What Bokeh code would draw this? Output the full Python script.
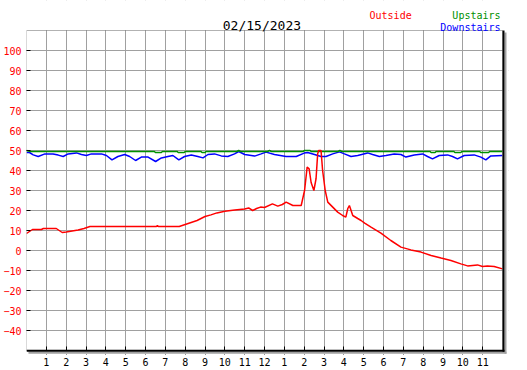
from bokeh.plotting import figure
from bokeh.models import FixedTicker, Label, BoxAnnotation, Range1d
from bokeh.embed import file_html
from bokeh.resources import INLINE

# ---- data ----
title_text = "02/15/2023"
hour_ticks = list(range(1, 24))
hour_labels = ["1", "2", "3", "4", "5", "6", "7", "8", "9", "10", "11", "12",
               "1", "2", "3", "4", "5", "6", "7", "8", "9", "10", "11"]
temp_ticks = list(range(-40, 101, 10))

out_hours = [0.0, 0.15, 0.3, 0.75, 0.85, 1.5, 1.65, 1.8, 2.0, 2.3, 2.6, 2.9, 3.2,
             6.55, 6.6, 6.65, 7.7, 8.0, 8.3, 8.6, 9.0, 9.3, 9.6, 10.0, 10.5, 11.0,
             11.2, 11.4, 11.6, 11.8, 12.0, 12.4, 12.67, 12.9, 13.09, 13.43, 13.85,
             14.02, 14.15, 14.25, 14.35, 14.49, 14.6, 14.68, 14.73, 14.85, 14.93,
             15.06, 15.19, 15.44, 15.69, 15.94, 16.1, 16.2, 16.28, 16.45, 16.7,
             16.87, 17.05, 17.37, 17.87, 18.37, 18.88, 19.38, 19.89, 20.4, 20.9,
             21.4, 21.9, 22.24, 22.74, 22.99, 23.24, 23.58, 24.0]
out_temps = [8.5, 9.5, 10.5, 10.5, 11.0, 11.0, 10.0, 9.0, 9.3, 9.8, 10.3, 11.0, 12.0,
             12.0, 12.5, 12.0, 12.0, 13.0, 14.0, 15.0, 17.0, 17.8, 18.8, 19.6, 20.2, 20.8,
             21.3, 20.0, 21.0, 21.7, 21.5, 23.3, 22.2, 23.0, 24.2, 22.5, 22.5,
             30.0, 41.7, 40.8, 34.0, 30.0, 36.0, 48.3, 50.0, 50.0, 40.0,
             30.0, 24.2, 21.7, 19.2, 17.5, 16.7, 21.0, 22.5, 17.5, 16.0,
             15.0, 13.7, 11.7, 8.7, 5.0, 1.7, 0.3, -0.8, -2.5, -3.8,
             -5.0, -6.7, -7.7, -7.2, -8.0, -7.7, -8.0, -9.2]

up_hours = [0.0, 0.2, 6.45, 6.5, 6.8, 6.85, 7.6, 7.65, 7.95, 8.0, 8.8, 8.85, 9.0,
            9.05, 10.6, 10.7, 10.8, 12.15, 12.25, 12.35, 13.95, 14.0, 14.3, 14.35,
            15.7, 15.8, 15.9, 20.35, 20.4, 20.6, 20.65, 21.55, 21.6, 21.9, 21.95,
            22.85, 22.9, 23.3, 23.35, 24.0]
up_temps = [50.0, 49.5, 49.5, 49.0, 49.0, 49.5, 49.5, 49.0, 49.0, 49.5, 49.5, 49.0, 49.0,
            49.5, 49.5, 50.0, 49.5, 49.5, 50.0, 49.5, 49.5, 50.0, 50.0, 49.5,
            49.5, 50.0, 49.5, 49.5, 49.0, 49.0, 49.5, 49.5, 49.0, 49.0, 49.5,
            49.5, 49.0, 49.0, 49.5, 49.5]

down_hours = [0.0, 0.15, 0.34, 0.59, 0.93, 1.34, 1.6, 1.85, 2.1, 2.52, 2.77, 3.02,
              3.27, 3.78, 4.03, 4.31, 4.61, 4.95, 5.2, 5.5, 5.79, 6.13, 6.51, 6.8,
              7.13, 7.38, 7.68, 7.97, 8.31, 8.64, 8.9, 9.15, 9.48, 9.82, 10.15,
              10.49, 10.7, 11.0, 11.5, 11.83, 12.08, 12.5, 13.09, 13.6, 14.0, 14.18,
              14.52, 14.85, 15.1, 15.44, 15.78, 16.03, 16.36, 16.7, 17.2, 17.45,
              17.79, 18.12, 18.54, 18.88, 19.13, 19.55, 19.97, 20.22, 20.47, 20.81,
              21.23, 21.48, 21.73, 22.07, 22.57, 22.91, 23.16, 23.41, 24.0]
down_temps = [49.0, 49.0, 47.8, 47.0, 48.3, 48.3, 47.7, 47.0, 48.3, 48.8, 48.0, 47.5,
              48.3, 48.3, 47.5, 45.3, 47.0, 48.0, 47.0, 45.0, 46.7, 46.7, 44.5, 46.3,
              47.0, 47.5, 45.3, 47.0, 47.8, 47.0, 46.3, 48.0, 48.3, 47.3, 47.0,
              48.3, 49.5, 48.0, 47.2, 48.3, 49.2, 48.0, 47.0, 47.0, 48.7, 49.0,
              48.0, 47.0, 47.0, 48.3, 49.3, 48.3, 47.0, 47.5, 48.8, 48.0,
              47.0, 47.5, 48.3, 48.0, 46.7, 47.8, 48.3, 47.0, 45.8, 47.5,
              47.8, 47.0, 45.8, 47.5, 47.8, 46.7, 45.3, 47.3, 47.5]

# ---- figure ----
MONO = "DejaVu Sans Mono"
X0, X1 = 0, 24          # hours shown in the chart box
Y0, Y1 = -50, 110       # temperatures shown in the chart box
p = figure(width=527, height=370, x_range=Range1d(X0, 24.302), y_range=Range1d(-52, 125),
           output_backend="svg", toolbar_location=None, tools="",
           min_border_left=25, min_border_right=19, min_border_top=0, min_border_bottom=16)
p.background_fill_color = "white"
p.border_fill_color = "white"
p.outline_line_color = None

p.xaxis.ticker = FixedTicker(ticks=hour_ticks)
p.xaxis.major_label_overrides = {h: l for h, l in zip(hour_ticks, hour_labels)}
p.yaxis.ticker = FixedTicker(ticks=temp_ticks)
p.xgrid.ticker = FixedTicker(ticks=hour_ticks)
p.ygrid.ticker = FixedTicker(ticks=temp_ticks)
for g in (p.xgrid, p.ygrid):
    g.grid_line_color = "#a0a0a0"
    g.grid_line_width = 1

for ax in (p.xaxis, p.yaxis):
    ax.axis_line_color = None
    ax.major_tick_out = 0
    ax.minor_tick_line_color = None
    ax.major_tick_line_color = "black"
    ax.major_label_text_font = MONO
    ax.major_label_text_font_size = "10px"
p.yaxis.major_tick_in = 4
p.xaxis.major_tick_in = 8
p.yaxis.major_label_standoff = 5
p.xaxis.major_label_standoff = 3
p.yaxis.major_label_text_color = "#ff0000"
p.xaxis.major_label_text_color = "black"

p.line(down_hours, down_temps, line_color="#0000ff", line_width=1.5)
p.line(up_hours, up_temps, line_color="#009000", line_width=1.5)
p.line(out_hours, out_temps, line_color="#ff0000", line_width=1.5)

def box(**kw):
    p.add_layout(BoxAnnotation(**kw))

# white covers outside the chart box (hide grid lines there)
box(bottom=Y1, fill_color="white", fill_alpha=1, line_color=None)
box(left=X1, fill_color="white", fill_alpha=1, line_color=None)
box(top=Y0, fill_color="white", fill_alpha=1, line_color=None)
# shadow and heavy right / bottom edge
box(left=24.1, right=24.2, bottom=-51.6, top=109, fill_color="#a0a0a0", fill_alpha=1, line_color=None)
box(left=0.1, right=24.2, bottom=-51.6, top=-50.6, fill_color="#a0a0a0", fill_alpha=1, line_color=None)
box(left=24.0, right=24.1, bottom=-50.6, top=Y1, fill_color="black", fill_alpha=1, line_color=None)
box(left=X0, right=24.1, bottom=-50.6, top=-49.6, fill_color="black", fill_alpha=1, line_color=None)
# chart box outline
box(left=X0, right=X1, bottom=Y0, top=Y1, fill_alpha=0, line_color="black", line_width=1)

def header(x, y, text, size, color, align):
    p.add_layout(Label(x=x, y=y, text=text, text_align=align, text_baseline="alphabetic",
                       text_font=MONO, text_font_size=size, text_font_style="normal",
                       text_color=color))

header(11.87, 112.5, title_text, "13px", "black", "center")
header(19.42, 117.5, "Outside", "10px", "#ff0000", "right")
header(23.9, 117.5, "Upstairs", "10px", "#009000", "right")
header(23.9, 111.75, "Downstairs", "10px", "#0000ff", "right")

open("out.html", "w").write(file_html(p, INLINE))
